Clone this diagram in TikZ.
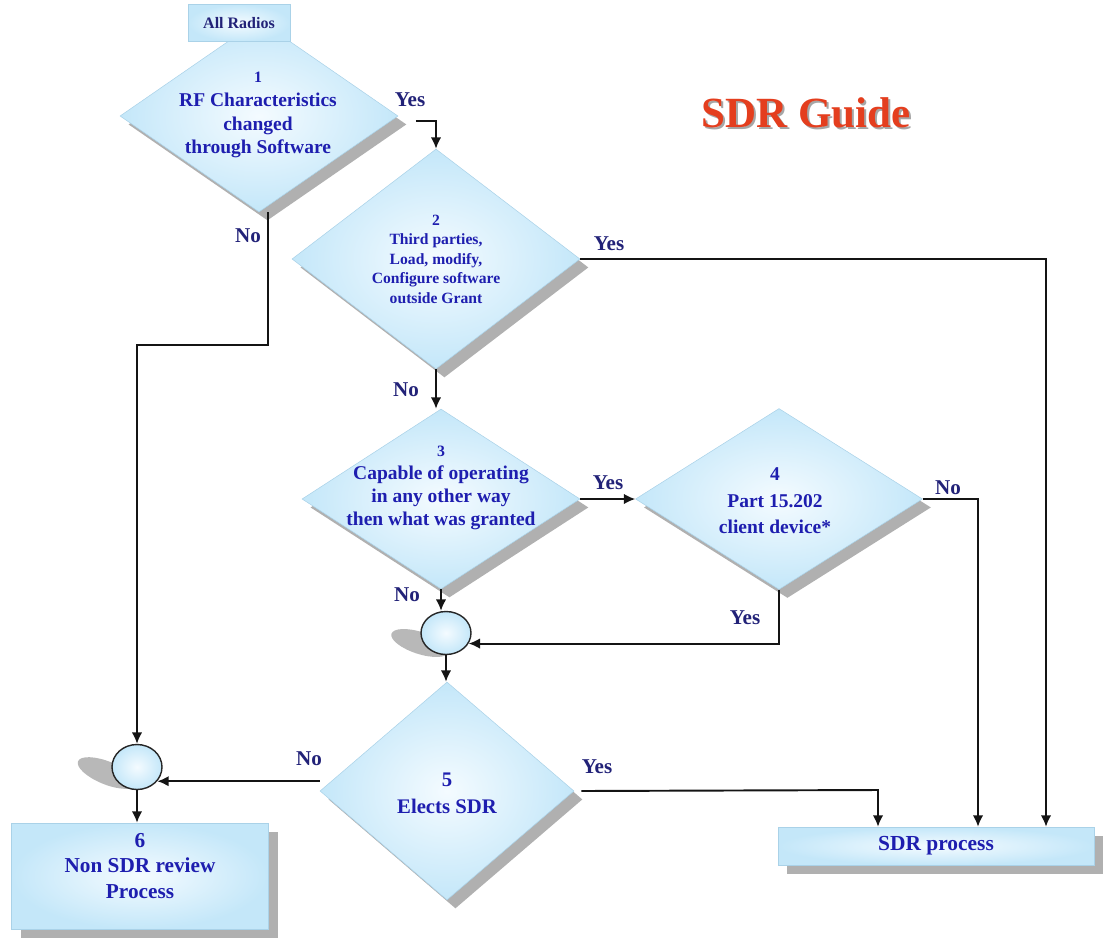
\documentclass[tikz,border=0pt]{standalone}
\usepackage{fontspec}
\setmainfont{Liberation Serif}
\usetikzlibrary{shapes.geometric,arrows.meta,shadows}
\definecolor{edgeblue}{RGB}{196,231,249}
\definecolor{midblue}{RGB}{244,251,255}
\definecolor{dtxtc}{RGB}{30,30,175}
\definecolor{lblc}{RGB}{34,34,120}
\definecolor{shad}{RGB}{176,176,176}
\definecolor{titlec}{RGB}{228,62,30}
\definecolor{bordc}{RGB}{170,210,232}
\definecolor{linec}{RGB}{20,20,20}
\begin{document}
\begin{tikzpicture}[x=0.02cm,y=-0.02cm,
 plainfill/.style={inner sep=0pt, draw=bordc, line width=0.3pt, shade, inner color=midblue, outer color=edgeblue},
 dia/.style={shape=diamond, plainfill, general shadow={fill=shad, shadow xshift=4.8pt, shadow yshift=-4.8pt}},
 boxn/.style={shape=rectangle, plainfill, general shadow={fill=shad, shadow xshift=5.3pt, shadow yshift=-5.3pt}},
 topbox/.style={shape=rectangle, plainfill},
 junc/.style={shape=ellipse, inner sep=0pt, draw=black!85, line width=0.8pt, shade, inner color=midblue, outer color=edgeblue},
 jshadow/.style={shape=ellipse, fill=shad!90, inner sep=0pt},
 dtxt/.style={text=dtxtc, align=center, inner sep=0pt},
 lbl/.style={text=lblc, font=\bfseries\fontsize{12}{14}\selectfont, inner sep=0pt},
 arr/.style={draw=linec, line width=1.1pt, -{Latex[length=6.5pt,width=6pt]}},
]
\useasboundingbox (0,0) rectangle (1105,940);

% title
\node[font=\bfseries\fontsize{24.5}{28}\selectfont, text=black!35] (tsh) at (808,115) {SDR Guide};
\node[font=\bfseries\fontsize{24.5}{28}\selectfont, text=titlec] (title) at (806,113) {SDR Guide};

% junction shadows
\node[jshadow, minimum width=1.25cm, minimum height=0.46cm, rotate=-22] (s6) at (107,773) {};
\node[jshadow, minimum width=1.2cm, minimum height=0.44cm, rotate=-18] (s5) at (420,643) {};

% diamonds
\node[dia, minimum width=5.56cm, minimum height=3.84cm] (d1) at (259,116) {};
\node[dia, minimum width=5.76cm, minimum height=4.4cm] (d2) at (436,259) {};
\node[dia, minimum width=5.56cm, minimum height=3.6cm] (d3) at (441,499) {};
\node[dia, minimum width=5.74cm, minimum height=3.62cm] (d4) at (779,499) {};
\node[dia, minimum width=5.08cm, minimum height=4.36cm] (d5) at (447,791) {};

% boxes
\node[topbox, minimum width=2.04cm, minimum height=0.74cm,
      text=lblc, font=\bfseries\fontsize{9.1}{11}\selectfont] (all) at (239,23) {All Radios};
\node[boxn, minimum width=5.14cm, minimum height=2.12cm] (box6) at (140,876) {};
\node[boxn, minimum width=6.32cm, minimum height=0.76cm, text=dtxtc, font=\bfseries\fontsize{12.2}{14}\selectfont] (sdr) at (936,846) {SDR process};

% junctions
\node[junc, minimum width=1.0cm, minimum height=0.86cm] (c5) at (446,633) {};
\node[junc, minimum width=1.0cm, minimum height=0.9cm] (c6) at (137,767) {};

% texts inside shapes
\node[dtxt, font=\bfseries\fontsize{11.1}{13.6}\selectfont] (t1) at (258,115)
  {{\fontsize{9}{11}\selectfont 1}\\RF Characteristics\\changed\\through Software};
\node[dtxt, font=\bfseries\fontsize{8.9}{11.1}\selectfont] (t2) at (436,259)
  {2\\Third parties,\\Load, modify,\\Configure software\\outside Grant};
\node[dtxt, font=\bfseries\fontsize{11.1}{13.2}\selectfont] (t3) at (441,488)
  {{\fontsize{9}{11}\selectfont 3}\\Capable of operating\\in any other way\\then what was granted};
\node[dtxt, font=\bfseries\fontsize{11.1}{15}\selectfont] (t4) at (775,501)
  {4\\Part 15.202\\client device*};
\node[dtxt, font=\bfseries\fontsize{11.8}{15.3}\selectfont] (t5) at (447,793)
  {5\\Elects SDR};
\node[dtxt, font=\bfseries\fontsize{12.1}{14.7}\selectfont] (t6) at (140,866)
  {6\\Non SDR review\\Process};

% helper coordinates
\coordinate (k1) at (137,345);
\coordinate (k2) at (1046,259);
\coordinate (k3) at (978,499);
\coordinate (k4) at (878,790);

% connectors
\draw[arr] ([shift={(10pt,-3pt)}]d1.east) -| (d2.north);
\draw[arr] ([xshift=5pt]d1.south) |- (k1) -- (c6.north);
\draw[arr] (d2.east) -- (k2) -- (k2 |- sdr.north);
\draw[arr] (d2.south) -- (d2.south |- d3.north);
\draw[arr] (d3.east) -- (d4.west);
\draw[arr] (d4.east) -- (k3) -- (k3 |- sdr.north);
\draw[arr] (d4.south) |- (c5.-25);
\draw[arr] (d3.south) -- (d3.south |- c5.north);
\draw[arr] (c5.south) -- (c5.south |- d5.north);
\draw[arr] (d5.west |- c6.-35) -- (c6.-35);
\draw[arr] (c6.south) -- (c6.south |- box6.north);
\draw[arr] ([xshift=4pt]d5.east) -- (k4) -- (k4 |- sdr.north);

% labels
\node[lbl] (y1) at (410,100) {Yes};
\node[lbl] (n1) at (248,236) {No};
\node[lbl] (y2) at (609,244) {Yes};
\node[lbl] (n2) at (406,390) {No};
\node[lbl] (y3) at (608,483) {Yes};
\node[lbl] (n3) at (407,595) {No};
\node[lbl] (n4) at (948,488) {No};
\node[lbl] (y4) at (745,618) {Yes};
\node[lbl] (n5) at (309,759) {No};
\node[lbl] (y5) at (597,767) {Yes};
\end{tikzpicture}
\end{document}
